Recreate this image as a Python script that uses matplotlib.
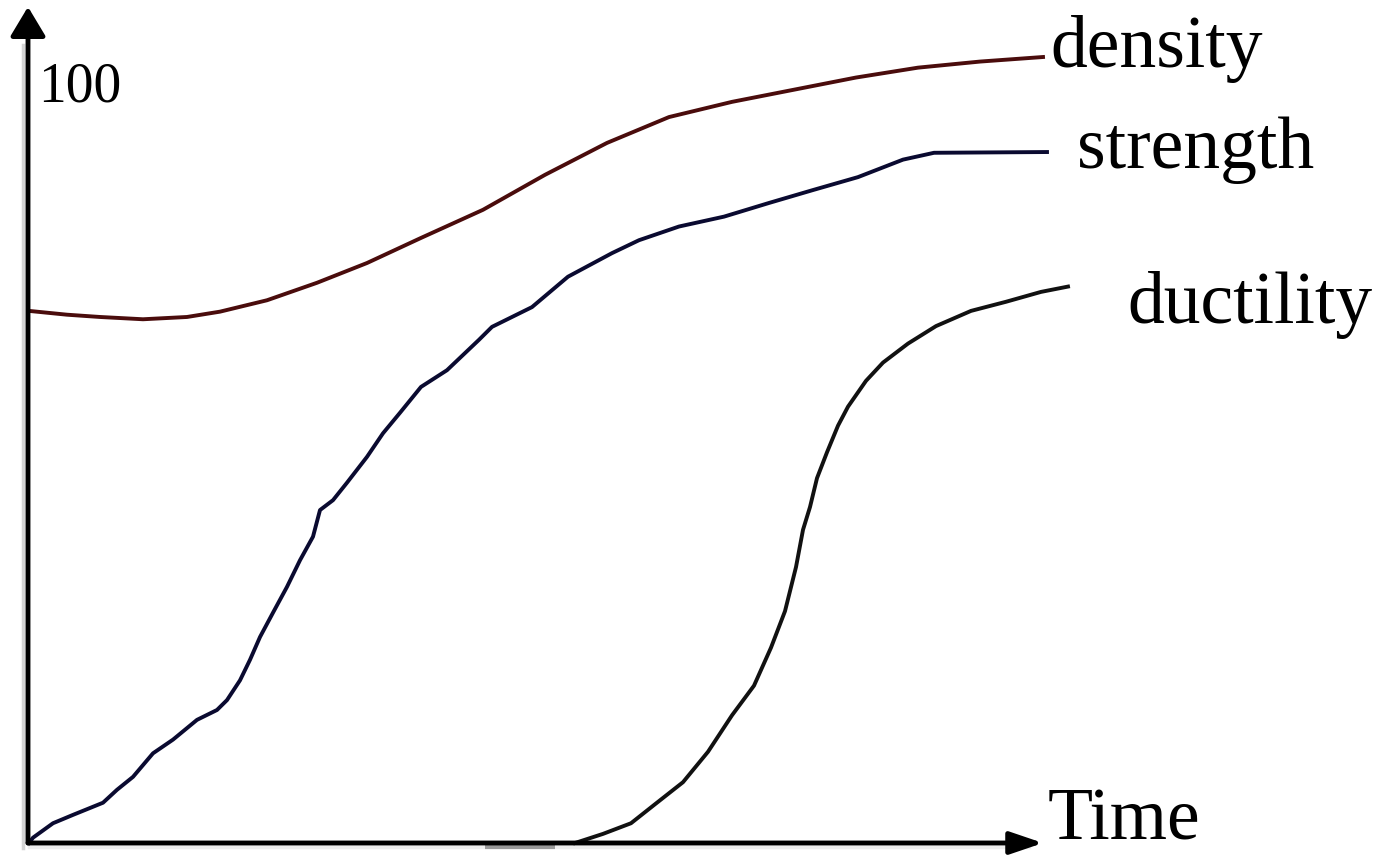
import matplotlib.pyplot as plt

# values: time (0-100 along the arrow) and property (0-100 scale)
density_t = [0, 3.8, 7.1, 11.4, 15.8, 19.1, 23.8, 28.8, 33.8, 39.2, 45.4, 51.6,
             57.8, 64.0, 70.3, 76.5, 82.7, 88.9, 95.1, 101.4]
density_v = [70.0, 69.5, 69.2, 68.9, 69.2, 69.9, 71.4, 73.7, 76.3, 79.6, 83.3, 87.9,
             92.1, 95.5, 97.5, 99.1, 100.7, 102.0, 102.8, 103.4]

strength_t = [0, 0.4, 2.4, 4.4, 7.4, 8.8, 10.4, 12.4, 14.4, 16.8, 18.8, 19.8, 21.1,
              22.1, 23.1, 24.4, 25.8, 27.1, 28.4, 29.1, 30.4, 31.8, 33.8, 35.4, 37.1,
              39.2, 41.8, 45.0, 46.3, 50.3, 53.9, 58.3, 61.0, 65.0, 69.5, 74.0, 78.4,
              82.9, 87.4, 90.5, 101.8]
strength_v = [0, 0.7, 2.6, 3.7, 5.3, 7.0, 8.7, 11.8, 13.6, 16.2, 17.5, 18.8, 21.4,
              24.1, 27.1, 30.3, 33.7, 37.2, 40.3, 43.8, 45.1, 47.4, 50.8, 53.9, 56.6,
              60.0, 62.2, 66.2, 67.9, 70.5, 74.5, 77.6, 79.3, 81.1, 82.4, 84.2, 85.9,
              87.6, 89.9, 90.8, 90.9]

ductility_t = [54.6, 57.4, 60.2, 62.6, 65.4, 67.9, 70.3, 72.5, 74.2, 75.6, 76.7, 77.4,
               78.1, 78.8, 79.8, 80.9, 81.9, 83.7, 85.4, 87.9, 90.7, 94.2, 97.7,
               101.2, 103.9]
ductility_v = [0, 1.2, 2.6, 5.1, 8.0, 12.0, 16.8, 20.7, 25.7, 30.5, 36.3, 41.2,
               44.2, 48.0, 51.4, 54.9, 57.4, 60.8, 63.2, 65.7, 68.0, 70.0, 71.2,
               72.5, 73.2]

serif = ['Liberation Serif', 'DejaVu Serif']

fig = plt.figure(figsize=(13.91, 8.56), dpi=100)
ax = fig.add_axes([0, 0, 1, 1])
ax.set_xlim(-2.9, 136.2)
ax.set_ylim(-1.71, 110.9)
ax.set_axis_off()

# faint shadow of the axes
ax.plot([-0.55, -0.55], [-0.6, 105], color='#d4d4d4', lw=2.5)
ax.plot([0, 100], [-0.55, -0.55], color='#eeeeee', lw=2.5)
ax.plot([45.6, 52.6], [-0.5, -0.5], color='#9a9a9a', lw=3, solid_capstyle='butt')

# axes with arrows
ax.annotate('', xy=(-0.1, 110.0), xytext=(-0.1, 0),
            arrowprops=dict(arrowstyle='-|>,head_length=0.45,head_width=0.27',
                            lw=3.5, color='k', mutation_scale=40,
                            shrinkA=0, shrinkB=0))
ax.annotate('', xy=(101.4, 0), xytext=(-0.1, 0),
            arrowprops=dict(arrowstyle='-|>,head_length=0.5,head_width=0.17',
                            lw=3.5, color='k', mutation_scale=40,
                            shrinkA=0, shrinkB=0))

ax.plot(density_t, density_v, color='#4a0c0c', lw=2.8, solid_joinstyle='round')
ax.plot(strength_t, strength_v, color='#0a0a30', lw=2.8, solid_joinstyle='round')
ax.plot(ductility_t, ductility_v, color='#111111', lw=2.8, solid_joinstyle='round')

ax.text(0.9, 97.5, '100', family=serif, fontsize=40, va='baseline', ha='left')
ax.text(102.1, 102.1, 'density', family=serif, fontsize=53, va='baseline', ha='left')
ax.text(104.8, 88.8, 'strength', family=serif, fontsize=53, va='baseline', ha='left')
ax.text(109.8, 68.4, 'ductility', family=serif, fontsize=53, va='baseline', ha='left')
ax.text(101.9, -1.68, 'Time', family=serif, fontsize=53, va='bottom', ha='left')

fig.savefig('out.png', dpi=100)
